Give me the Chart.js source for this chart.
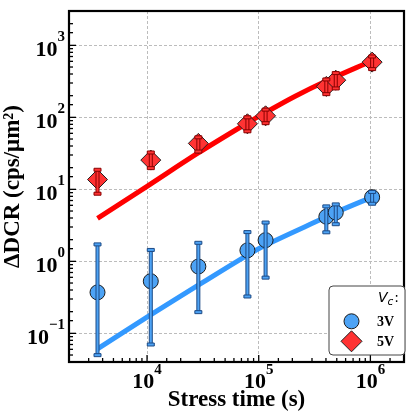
<!DOCTYPE html>
<html>
<head>
<meta charset="utf-8">
<script src="https://cdn.jsdelivr.net/npm/chart.js@4.4.1/dist/chart.umd.min.js"></script>
<style>
  html, body { margin: 0; padding: 0; background: #fff; }
  #wrap { width: 415px; height: 415px; }
</style>
</head>
<body>
<div id="wrap"><canvas id="chart" width="415" height="415"></canvas></div>
<script>
/* ──────── DATA ──────── */

// stress times (s) shared by both bias conditions
const stressTime = [3600, 10800, 28800, 79200, 115200, 403200, 489600, 1036800];

// Vc = 3V
const dcr3V     = [0.371, 0.53, 0.848, 1.42, 1.97, 4.17, 4.77, 7.79];
const dcr3VLow  = [0.0498, 0.070, 0.197, 0.325, 0.594, 2.53, 3.28, 6.31];
const dcr3VHigh = [1.72, 1.44, 1.81, 2.55, 3.46, 5.8, 6.18, 9.2];

// Vc = 5V
const dcr5V     = [13.7, 25.5, 43.5, 81.4, 105, 269, 328, 585];
const dcr5VLow  = [8.7, 19.7, 33.5, 64, 83, 210, 252, 468];
const dcr5VHigh = [18.7, 32.5, 52.8, 100, 128, 336, 412, 700];

// fitted curves
const fitTime3V = [3600, 10400, 29000, 80000, 117000, 400000, 500000, 1036800];
const fit3V     = [0.061, 0.175, 0.47, 1.23, 1.7, 4.12, 4.85, 7.8];
const fitTime5V = [3600, 10000, 28250, 79600, 116700, 210000, 402000, 1036800];
const fit5V     = [3.95, 11, 31.5, 84, 118, 195, 320, 612];

// major tick labels (powers of ten)
const xMajorExp = [4, 5, 6];
const yMajorExp = [-1, 0, 1, 2, 3];

const legendTitle = 'V';
const legendSub = 'c';

/* ──────── STYLE ──────── */

const BLUE_LINE = '#3399ff';
const BLUE_FILL = '#4da3f5';
const BLUE_EDGE = '#1c4a85';
const RED_LINE = '#ff0000';
const RED_FILL = '#ff3333';
const RED_EDGE = '#8a0000';
const SERIF = '"Liberation Serif", "Times New Roman", serif';

const isMajor = v => Math.abs(Math.log10(v) - Math.round(Math.log10(v))) < 1e-6;

/* ──────── PLUGIN: error bars, frame, ticks, labels, legend ──────── */

function drawErrorBars(ctx, xs, ys, times, low, high, fill, edge) {
  ctx.save();
  ctx.fillStyle = fill;
  ctx.strokeStyle = edge;
  ctx.lineWidth = 1;
  times.forEach((t, i) => {
    const px = xs.getPixelForValue(t);
    const yh = ys.getPixelForValue(high[i]);
    const yl = ys.getPixelForValue(low[i]);
    ctx.beginPath();
    ctx.rect(px - 1.5, yh, 3, yl - yh);
    ctx.fill(); ctx.stroke();
    [yh, yl].forEach(yy => {
      ctx.beginPath();
      ctx.rect(px - 3.5, yy - 1.5, 7, 3);
      ctx.fill(); ctx.stroke();
    });
  });
  ctx.restore();
}

function powLabel(ctx, exp) {
  const base = '10';
  const sup = exp < 0 ? '\u2212' + Math.abs(exp) : String(exp);
  ctx.font = 'bold 22px ' + SERIF;
  const wb = ctx.measureText(base).width;
  ctx.font = 'bold 15px ' + SERIF;
  const ws = ctx.measureText(sup).width;
  return { base, sup, wb, ws };
}

const overlay = {
  id: 'overlay',
  afterDatasetsDraw(chart) {
    const { ctx, chartArea: a, scales: { x, y } } = chart;

    drawErrorBars(ctx, x, y, stressTime, dcr3VLow, dcr3VHigh, BLUE_FILL, BLUE_EDGE);
    drawErrorBars(ctx, x, y, stressTime, dcr5VLow, dcr5VHigh, RED_FILL, RED_EDGE);

    ctx.save();
    // inward ticks on left and bottom
    ctx.strokeStyle = '#000';
    ctx.lineWidth = 1.3;
    x.ticks.forEach(t => {
      const p = x.getPixelForValue(t.value);
      if (p < a.left || p > a.right) return;
      const len = isMajor(t.value) ? 7 : 4;
      ctx.beginPath();
      ctx.moveTo(p, a.bottom);
      ctx.lineTo(p, a.bottom - len);
      ctx.stroke();
    });
    y.ticks.forEach(t => {
      const p = y.getPixelForValue(t.value);
      if (p < a.top || p > a.bottom) return;
      const len = isMajor(t.value) ? 7 : 4;
      ctx.beginPath();
      ctx.moveTo(a.left, p);
      ctx.lineTo(a.left + len, p);
      ctx.stroke();
    });

    // frame
    ctx.lineWidth = 2.2;
    ctx.strokeRect(a.left, a.top, a.right - a.left, a.bottom - a.top);

    // tick labels
    ctx.fillStyle = '#000';
    ctx.textAlign = 'left';
    ctx.textBaseline = 'alphabetic';
    xMajorExp.forEach(e => {
      const p = x.getPixelForValue(Math.pow(10, e));
      const l = powLabel(ctx, e);
      const x0 = p - (l.wb + l.ws) / 2;
      ctx.font = 'bold 22px ' + SERIF;
      ctx.fillText(l.base, x0, a.bottom + 25.5);
      ctx.font = 'bold 15px ' + SERIF;
      ctx.fillText(l.sup, x0 + l.wb, a.bottom + 12);
    });
    yMajorExp.forEach(e => {
      const p = y.getPixelForValue(Math.pow(10, e));
      const l = powLabel(ctx, e);
      const right = a.left - 4;
      ctx.font = 'bold 22px ' + SERIF;
      ctx.fillText(l.base, right - l.ws - l.wb, p + 10.2);
      ctx.font = 'bold 15px ' + SERIF;
      ctx.fillText(l.sup, right - l.ws, p - 4);
    });

    // legend
    const lx = 329, ly = 286, lw = 76, lh = 69;
    ctx.beginPath();
    ctx.roundRect(lx, ly, lw, lh, 4);
    ctx.fillStyle = '#fff';
    ctx.fill();
    ctx.strokeStyle = '#444';
    ctx.lineWidth = 1;
    ctx.stroke();

    ctx.fillStyle = '#000';
    ctx.font = 'italic 14px "DejaVu Sans"';
    ctx.fillText(legendTitle, 378, 302);
    const wv = ctx.measureText(legendTitle).width;
    ctx.font = 'italic 10.5px "DejaVu Sans"';
    ctx.fillText(legendSub, 378 + wv, 304.5);
    const wc = ctx.measureText(legendSub).width;
    ctx.font = '14px "DejaVu Sans"';
    ctx.fillText(':', 378 + wv + wc + 1, 302);

    const items = chart.data.datasets.filter(d => d.inLegend);
    items.forEach((d, i) => {
      const cy = 321.3 + i * 20;
      ctx.save();
      ctx.fillStyle = d.backgroundColor;
      ctx.strokeStyle = d.borderColor;
      ctx.lineWidth = d.borderWidth;
      Chart.helpers.drawPoint(ctx, {
        pointStyle: d.pointStyle,
        radius: d.pointStyle === 'circle' ? 7.5 : 10.5,
        borderWidth: d.borderWidth
      }, 351.5, cy);
      ctx.restore();
      ctx.fillStyle = '#000';
      ctx.font = 'bold 14px ' + SERIF;
      ctx.fillText(d.label, 377, cy + 4.5);
    });
    ctx.restore();
  }
};

/* ──────── CHART ──────── */

const pts = (xs, ys) => xs.map((v, i) => ({ x: v, y: ys[i] }));

new Chart(document.getElementById('chart'), {
  type: 'scatter',
  data: {
    datasets: [
      {
        label: '3V', data: pts(stressTime, dcr3V), inLegend: true,
        pointStyle: 'circle', pointRadius: 7.5, pointHoverRadius: 7.5,
        backgroundColor: BLUE_FILL, borderColor: '#1a1a1a', borderWidth: 1, order: 1
      },
      {
        label: '5V', data: pts(stressTime, dcr5V), inLegend: true,
        pointStyle: 'rectRot', pointRadius: 10, pointHoverRadius: 10,
        backgroundColor: RED_FILL, borderColor: '#222', borderWidth: 1, order: 1
      },
      {
        label: 'fit 3V', data: pts(fitTime3V, fit3V), showLine: true,
        pointRadius: 0, borderColor: BLUE_LINE, borderWidth: 5,
        tension: 0.35, order: 2
      },
      {
        label: 'fit 5V', data: pts(fitTime5V, fit5V), showLine: true,
        pointRadius: 0, borderColor: RED_LINE, borderWidth: 5,
        tension: 0.35, order: 2
      }
    ]
  },
  options: {
    responsive: false,
    animation: false,
    devicePixelRatio: 1,
    layout: { padding: { top: 2.5, right: 3, left: 0, bottom: 0 } },
    plugins: { legend: { display: false }, tooltip: { enabled: false } },
    scales: {
      x: {
        type: 'logarithmic', min: 2000, max: 2e6,
        ticks: { display: false },
        grid: {
          drawTicks: false, lineWidth: 1,
          color: c => isMajor(c.tick.value) ? '#bcbcbc' : 'rgba(0,0,0,0)'
        },
        border: { display: false, dash: [3, 2] },
        title: {
          display: true, text: 'Stress time (s)', color: '#000',
          font: { family: SERIF, size: 23, weight: 'bold', lineHeight: 1.1 },
          padding: { top: 0, bottom: 2 }
        },
        afterFit: s => { s.height = 53; }
      },
      y: {
        type: 'logarithmic', min: 0.04, max: 3000,
        ticks: { display: false },
        grid: {
          drawTicks: false, lineWidth: 1,
          color: c => isMajor(c.tick.value) ? '#bcbcbc' : 'rgba(0,0,0,0)'
        },
        border: { display: false, dash: [3, 2] },
        title: {
          display: true, text: '\u0394DCR (cps/\u03bcm\u00b2)', color: '#000',
          font: { family: SERIF, size: 23, weight: 'bold', lineHeight: 1.1 },
          padding: { top: 0, bottom: 0 }
        },
        afterFit: s => { s.width = 69; }
      }
    }
  },
  plugins: [overlay]
});
</script>
</body>
</html>
